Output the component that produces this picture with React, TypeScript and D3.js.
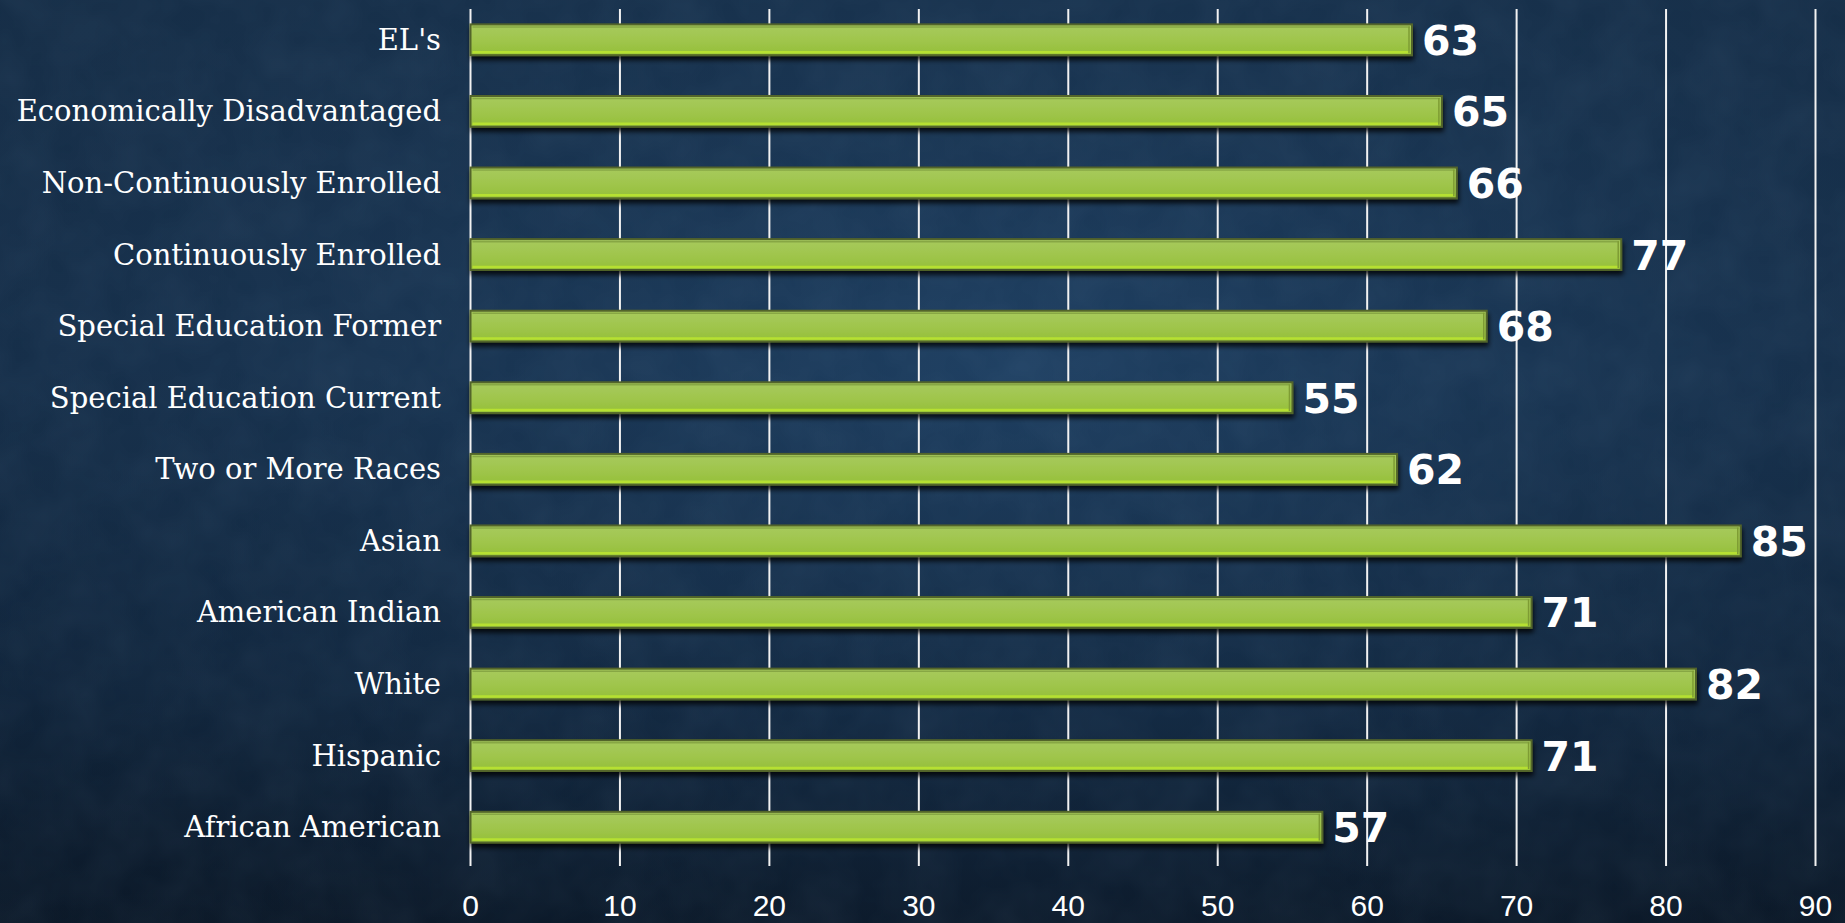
import React from "react";
import * as d3 from "d3";

const categories = [
  "EL's",
  "Economically Disadvantaged",
  "Non-Continuously Enrolled",
  "Continuously Enrolled",
  "Special Education Former",
  "Special Education Current",
  "Two or More Races",
  "Asian",
  "American Indian",
  "White",
  "Hispanic",
  "African American",
];
const values = [63, 65, 66, 77, 68, 55, 62, 85, 71, 82, 71, 57];
const tickValues = [0, 10, 20, 30, 40, 50, 60, 70, 80, 90];

const W = 1845;
const H = 923;

export default function App() {
  const x = d3.scaleLinear().domain([0, 90]).range([470.5, 1815.5]);
  const y = d3.scaleBand<string>().domain(categories).range([4, 863]).paddingInner(0.57).paddingOuter(0.285);
  const bh = y.bandwidth();
  const gridTop = 9;
  const gridBottom = 866;

  return (
    <div style={{ position: "fixed", left: 0, top: 0, width: W, height: H, overflow: "hidden" }}>
      <svg width={W} height={H} style={{ display: "block" }}>
        <defs>
          <linearGradient id="bgLin" x1="0" y1="0" x2="0" y2="1">
            <stop offset="0%" stopColor="#1b3958" />
            <stop offset="40%" stopColor="#1a3858" />
            <stop offset="75%" stopColor="#132b45" />
            <stop offset="100%" stopColor="#0c1a2a" />
          </linearGradient>
          <radialGradient id="bgRad" cx="55%" cy="40%" r="70%">
            <stop offset="0%" stopColor="#214468" stopOpacity="0.6" />
            <stop offset="100%" stopColor="#0b1726" stopOpacity="0.35" />
          </radialGradient>
          <linearGradient id="barFill" x1="0" y1="0" x2="0" y2="1">
            <stop offset="0%" stopColor="#a7ca5e" />
            <stop offset="55%" stopColor="#9fc54b" />
            <stop offset="100%" stopColor="#94bf38" />
          </linearGradient>
          <filter id="shadow" x="-5%" y="-30%" width="110%" height="180%">
            <feDropShadow dx="1" dy="4" stdDeviation="2.5" floodColor="#000" floodOpacity="0.8" />
          </filter>
          <filter id="noise" x="0" y="0" width="100%" height="100%">
            <feTurbulence type="fractalNoise" baseFrequency="0.02" numOctaves="3" seed="7" />
            <feColorMatrix type="matrix" values="0 0 0 0 0.4  0 0 0 0 0.6  0 0 0 0 0.8  0 0 0 0.3 -0.06" />
          </filter>
        </defs>
        <rect x={0} y={0} width={W} height={H} fill="url(#bgLin)" />
        <rect x={0} y={0} width={W} height={H} fill="url(#bgRad)" />
        <rect x={0} y={0} width={W} height={H} filter="url(#noise)" opacity={0.25} />

        {tickValues.map((t) => (
          <line key={"g" + t} x1={x(t)} x2={x(t)} y1={gridTop} y2={gridBottom} stroke="#f2f2f2" strokeWidth={2} />
        ))}

        {categories.map((c, i) => {
          const by = y(c)!;
          const x0 = x(0);
          const x1 = x(values[i]);
          return (
            <g key={c}>
              <g filter="url(#shadow)">
                <rect x={x0} y={by} width={x1 - x0} height={bh} fill="url(#barFill)" stroke="#53652a" strokeWidth={2} />
              </g>
              <line x1={x0 + 2} x2={x1 - 2} y1={by + bh - 3} y2={by + bh - 3} stroke="#b6e032" strokeWidth={2.5} />
              <line x1={x0 + 2} x2={x1 - 2} y1={by + 2.5} y2={by + 2.5} stroke="#87a744" strokeWidth={1.5} />
              <line x1={x1 - 3} x2={x1 - 3} y1={by + 2} y2={by + bh - 2} stroke="#7e9c34" strokeWidth={1.5} />
              <text
                x={441}
                y={by + bh / 2}
                textAnchor="end"
                dominantBaseline="central"
                fill="#ffffff"
                style={{ fontFamily: "'DejaVu Serif', serif", fontSize: 29 }}
              >
                {c}
              </text>
              <text
                x={x1 + 10}
                y={by + bh / 2 + 1}
                dominantBaseline="central"
                fill="#ffffff"
                style={{ fontFamily: "'DejaVu Sans', sans-serif", fontSize: 41, fontWeight: 700 }}
              >
                {values[i]}
              </text>
            </g>
          );
        })}

        {tickValues.map((t) => (
          <text
            key={"t" + t}
            x={x(t)}
            y={916}
            textAnchor="middle"
            fill="#ffffff"
            style={{ fontFamily: "'Liberation Sans', Arial, sans-serif", fontSize: 30 }}
          >
            {t}
          </text>
        ))}
      </svg>
    </div>
  );
}
